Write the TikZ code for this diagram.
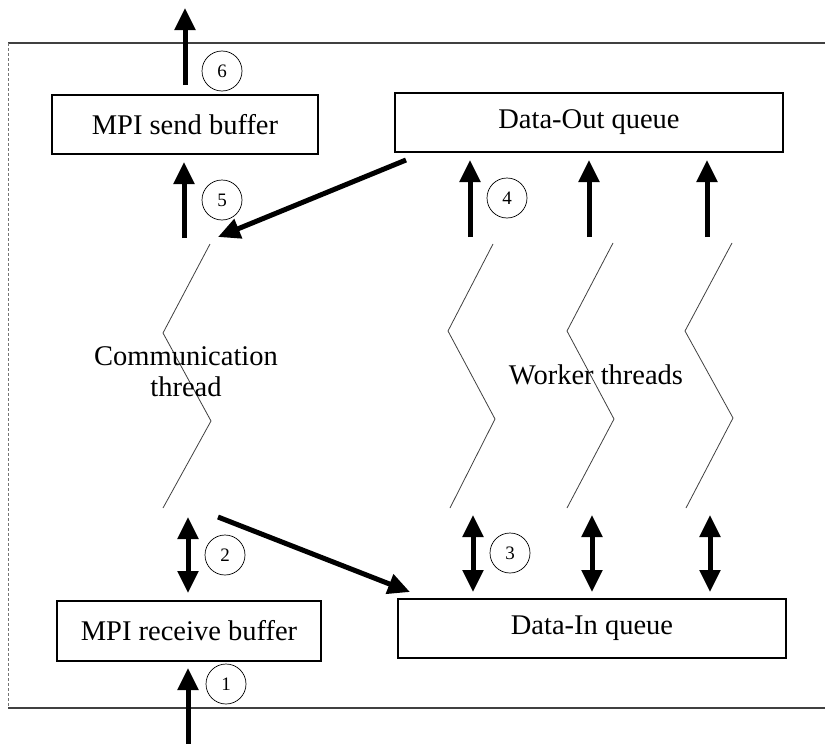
\documentclass[tikz,border=0pt]{standalone}
\usepackage{fontspec}
\setmainfont{Liberation Serif}
\usetikzlibrary{arrows.meta}
\begin{document}
\begin{tikzpicture}[x=1pt,y=-1pt,
  box/.style={draw, line width=1.1pt, inner sep=0pt, font=\fontsize{28.5}{32}\selectfont},
  flow/.style={line width=5pt, -{Triangle[width=20pt,length=22pt]}},
  flowboth/.style={line width=5pt, {Triangle[width=20pt,length=22pt]}-{Triangle[width=20pt,length=22pt]}},
  thread/.style={line width=0.8pt, black!75},
  badge/.style={circle, draw, line width=0.7pt, minimum size=40pt, inner sep=0pt, font=\fontsize{19}{19}\selectfont},
  lbl/.style={font=\fontsize{28.5}{31}\selectfont, align=center}]
\useasboundingbox (0,0) rectangle (825,744);

% enclosing frame (open on the right)
\draw[line width=1.2pt, black!75] (826,43) -- (8,43);
\draw[line width=1.2pt, black!75] (8,708) -- (826,708);
\draw[line width=0.7pt, black!55, densely dashed] (8,43) -- (8,708);

% buffers and queues
\node[box, minimum width=266pt, minimum height=59pt] (send) at (185,124.5) {MPI send buffer};
\node[box, minimum width=388pt, minimum height=59pt] (dout) at (589,122.5) {Data-Out queue};
\node[box, minimum width=264pt, minimum height=60pt] (recv) at (189,631) {MPI receive buffer};
\node[box, minimum width=388pt, minimum height=59pt] (din)  at (592,628.5) {Data-In queue};

% thread lines
\draw[thread] (210,244) -- (163,333) -- (211,421) -- (163,508);
\draw[thread] (493,244) -- (448,331) -- (495,419) -- (450,508);
\draw[thread] (613,243) -- (567,331) -- (614,419) -- (567,508);
\draw[thread] (732,243) -- (685,331) -- (733,418) -- (686,508);

\node[lbl] (comm) at (186,372) {Communication\\thread};
\node[lbl] (work) at (596,375) {Worker threads};

% arrow end points
\coordinate (o6s) at (185,85);   \coordinate (o6e) at (185,8);
\coordinate (o5s) at (184,238);  \coordinate (o5e) at (184,162);
\coordinate (dqs) at (406,160);  \coordinate (dqe) at (218,237);
\coordinate (w1s) at (470,237);  \coordinate (w1e) at (470,160);
\coordinate (w2s) at (589,237);  \coordinate (w2e) at (589,160);
\coordinate (w3s) at (707,237);  \coordinate (w3e) at (707,160);
\coordinate (r2s) at (188,517);  \coordinate (r2e) at (188,593);
\coordinate (cis) at (218,517);  \coordinate (cie) at (410,592);
\coordinate (i1s) at (473,515);  \coordinate (i1e) at (473,592);
\coordinate (i2s) at (592,515);  \coordinate (i2e) at (592,592);
\coordinate (i3s) at (710,515);  \coordinate (i3e) at (710,592);
\coordinate (r1s) at (188,748);  \coordinate (r1e) at (188,668);

% data flow
\draw[flow] (o6s) -- (o6e);
\draw[flow] (o5s) -- (o5e);
\draw[flow] (dqs) -- (dqe);
\draw[flow] (w1s) -- (w1e);
\draw[flow] (w2s) -- (w2e);
\draw[flow] (w3s) -- (w3e);
\draw[flowboth] (r2s) -- (r2e);
\draw[flow] (cis) -- (cie);
\draw[flowboth] (i1s) -- (i1e);
\draw[flowboth] (i2s) -- (i2e);
\draw[flowboth] (i3s) -- (i3e);
\draw[flow] (r1s) -- (r1e);

% step numbers
\node[badge] (c1) at (226,684) {1};
\node[badge] (c2) at (225,555) {2};
\node[badge] (c3) at (510,553) {3};
\node[badge] (c4) at (507,198) {4};
\node[badge] (c5) at (222,200) {5};
\node[badge] (c6) at (222,71) {6};
\end{tikzpicture}
\end{document}
